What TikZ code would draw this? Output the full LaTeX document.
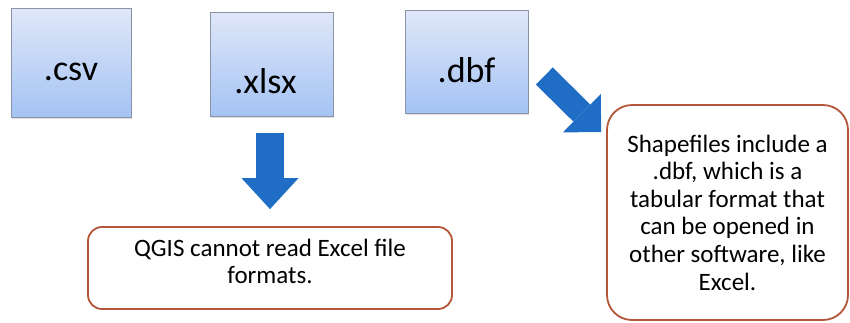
\documentclass[tikz,border=0pt]{standalone}
\usepackage{fontspec}
\setmainfont{Carlito}
\usetikzlibrary{arrows.meta,shadows}

\definecolor{boxtop}{RGB}{224,231,248}
\definecolor{boxbottom}{RGB}{164,195,244}
\definecolor{boxedge}{RGB}{138,148,168}
\definecolor{arrowblue}{RGB}{31,109,196}
\definecolor{noteedge}{RGB}{180,86,58}

\begin{document}
\begin{tikzpicture}[x=1pt,y=-1pt,
	filebox/.style={draw=boxedge,line width=0.6pt,top color=boxtop,bottom color=boxbottom,
		drop shadow={shadow xshift=1pt,shadow yshift=-2pt,opacity=0.25},
		inner sep=0pt,text depth=0pt,font=\fontsize{36}{40}\selectfont},
	notebox/.style={draw=noteedge,line width=1.8pt,fill=white,rounded corners=#1,
		align=center,inner sep=0pt,font=\fontsize{25}{27.6}\selectfont},
	downarrow/.style={draw=arrowblue,line width=28pt,-{Triangle[width=57pt,length=31pt,line width=0pt]}},
	diagarrow/.style={draw=arrowblue,line width=24pt,-{Triangle[width=54pt,length=27pt,line width=0pt]}}]
	\useasboundingbox (0,0) rectangle (850,322);
	% file types
	\node [filebox,minimum width=120pt,minimum height=109pt,text height=35pt] (csv) at (71,62.5) {.csv};
	\node [filebox,minimum width=123pt,minimum height=104pt,text height=58pt] (xlsx) at (271.5,64) {.xlsx\hspace*{12pt}};
	\node [filebox,minimum width=123pt,minimum height=103pt,text height=41pt] (dbf) at (466.5,61.5) {.dbf};
	% notes
	\node [notebox=14pt,minimum width=364pt,minimum height=82pt,text depth=13pt] (qgis) at (270,268) {QGIS cannot read Excel file\\formats.};
	\node [notebox=25pt,minimum width=241pt,minimum height=215pt] (shp) at (727.5,212.5)
		{Shapefiles include a\\.dbf, which is a\\tabular format that\\can be opened in\\other software, like\\Excel.};
	% arrows
	\draw [downarrow,shorten <=17pt,shorten >=17pt] (xlsx.south -| qgis.north) -- (qgis.north);
	\draw [diagarrow] ([xshift=16pt,yshift=-14.5pt]dbf.east) -- ([xshift=-5pt,yshift=-28pt]shp.north west);
\end{tikzpicture}
\end{document}
